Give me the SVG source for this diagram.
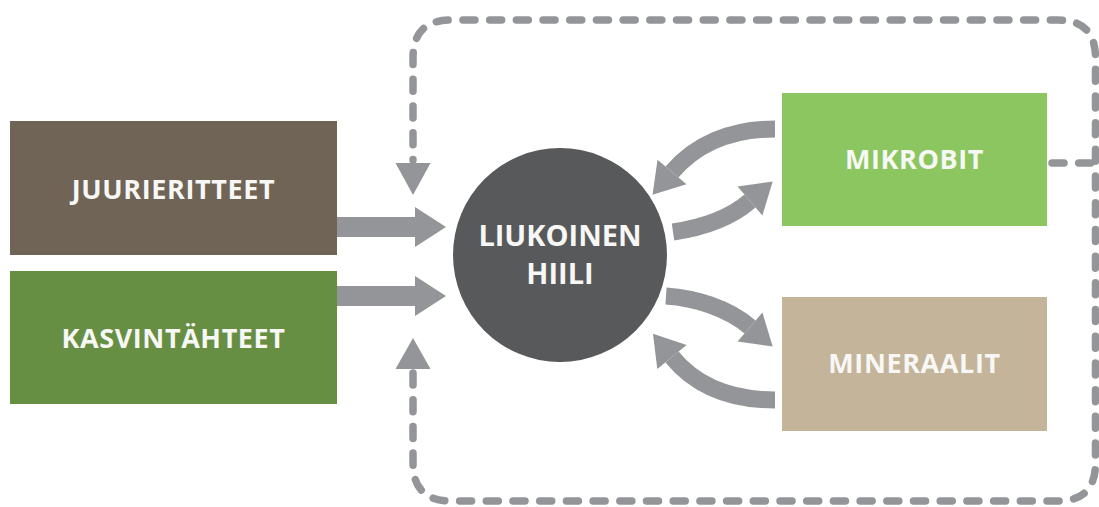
<svg xmlns="http://www.w3.org/2000/svg" width="1099" height="507" viewBox="0 0 1099 507">
<style>
.lbl{font-family:"Open Sans","Liberation Sans",sans-serif;font-weight:700;fill:#f7f7f5;text-anchor:middle}
.box{font-size:27px;letter-spacing:0.6px}
.ctr{font-size:29px;letter-spacing:0px}
.flow{fill:none;stroke:#939598}
.dash{fill:none;stroke:#939598;stroke-width:7.5;stroke-linecap:round;stroke-dasharray:12 14.7}
.head{fill:#939598}
</style>
<defs>
<marker id="bigHead" markerUnits="userSpaceOnUse" markerWidth="32" markerHeight="42" refX="0" refY="20" orient="auto" overflow="visible">
<path d="M0,0 L31,20 L0,40 Z" fill="#939598"/>
</marker>
<marker id="curveHead" markerUnits="userSpaceOnUse" markerWidth="31" markerHeight="40" refX="0" refY="19" orient="auto" overflow="visible">
<path d="M0,0 L30,19 L0,38 Z" fill="#939598"/>
</marker>
</defs>

<g id="connectors">
<path class="flow" stroke-width="20" d="M337,227 H415" marker-end="url(#bigHead)"/>
<path class="flow" stroke-width="20" d="M337,296 H415" marker-end="url(#bigHead)"/>
<path class="flow" stroke-width="17" d="M775,129 C730,129 695,145 672,172" marker-end="url(#curveHead)"/>
<path class="flow" stroke-width="17" d="M673,232 C700,228 728,220 750,201" marker-end="url(#curveHead)"/>
<path class="flow" stroke-width="17" d="M666,296 C695,298 728,308 750,327" marker-end="url(#curveHead)"/>
<path class="flow" stroke-width="17" d="M775,400 C730,400 695,385 672,357" marker-end="url(#curveHead)"/>
<path class="dash" d="M413,373 V463 Q413,501 451,501 H1058 Q1095.5,501 1095.5,463 V58 Q1095.5,20 1058,20 H451 Q413,20 413,58 V160"/>
<path class="dash" d="M1052,163 H1092"/>
<path class="head" d="M395.5,163 H430.5 L413,195 Z"/>
<path class="head" d="M395.5,369 H430.5 L413,338 Z"/>
</g>

<g id="juurieritteet">
<rect x="10" y="121" width="327" height="134" fill="#6f6455"/>
<text class="lbl box" x="173.5" y="199">JUURIERITTEET</text>
</g>
<g id="kasvintahteet">
<rect x="10" y="271" width="327" height="133" fill="#668f44"/>
<text class="lbl box" x="173.5" y="348">KASVINTÄHTEET</text>
</g>
<g id="liukoinen-hiili">
<circle cx="560" cy="255" r="107" fill="#58595b"/>
<text class="lbl ctr" x="560" y="246">LIUKOINEN</text>
<text class="lbl ctr" x="560" y="284">HIILI</text>
</g>
<g id="mikrobit">
<rect x="782" y="93" width="265" height="133" fill="#8cc660"/>
<text class="lbl box" x="914.5" y="169">MIKROBIT</text>
</g>
<g id="mineraalit">
<rect x="782" y="297" width="265" height="134" fill="#c4b49a"/>
<text class="lbl box" x="914.5" y="373">MINERAALIT</text>
</g>
</svg>
